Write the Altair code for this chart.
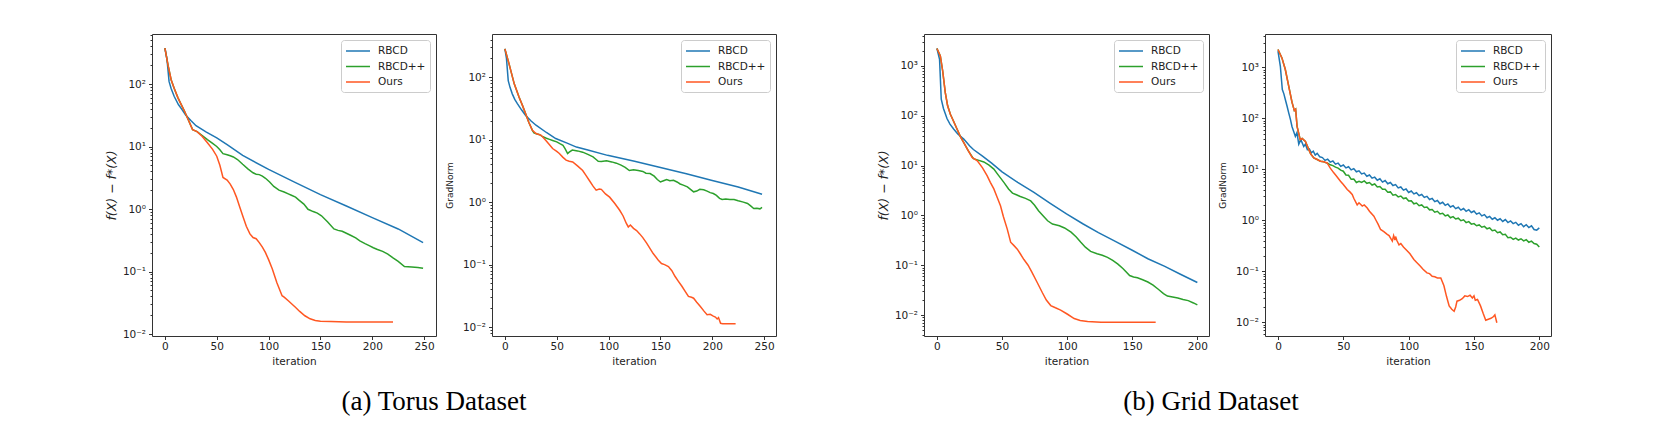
import altair as alt
import pandas as pd

SERIES = ["RBCD", "RBCD++", "Ours"]
COLORS = ["#1f77b4", "#2ca02c", "#ff5722"]
CAPTIONS = ["(a) Torus Dataset", "(b) Grid Dataset"]
Y_TITLES = ["f(X) − f*(X)", "GradNorm", "f(X) − f*(X)", "GradNorm"]
X_TITLE = "iteration"

X_TICKS_TORUS = [0, 50, 100, 150, 200, 250]
X_TICKS_GRID = [0, 50, 100, 150, 200]
X_DOMAIN_TORUS = [-12.45, 261.45]
X_DOMAIN_GRID = [-9.95, 208.95]

Y_MAJOR = [0.01, 0.1, 1, 10, 100, 1000]
Y_MAJOR_LABELS = ["10⁻²", "10⁻¹", "10⁰", "10¹", "10²", "10³"]
Y_MINOR = [0.004, 0.005, 0.006, 0.007, 0.008, 0.009,
           0.02, 0.03, 0.04, 0.05, 0.06, 0.07, 0.08, 0.09,
           0.2, 0.3, 0.4, 0.5, 0.6, 0.7, 0.8, 0.9,
           2, 3, 4, 5, 6, 7, 8, 9,
           20, 30, 40, 50, 60, 70, 80, 90,
           200, 300, 400, 500, 600, 700, 800, 900,
           2000, 3000, 4000]

Y_DOMAINS = [[0.0093, 631], [0.0072, 490], [0.0038, 4365], [0.0054, 4467]]

# ---------------- Panel 1: Torus, f(X) - f*(X) ----------------
P1_RBCD_IT = [0, 2, 4, 6, 9, 13, 16, 20, 25, 30, 40, 50, 60, 75, 100, 125, 150, 175, 200, 225, 249]
P1_RBCD_V = [375, 250, 110, 85, 63, 47, 40, 32, 26, 21.5, 17, 13.8, 10.7, 7.2, 4.3, 2.7, 1.7, 1.12, 0.73, 0.48, 0.29]

P1_OURS_IT = [0, 3, 6, 9, 12.6, 16, 18.8, 22, 26.7, 31, 36, 41, 46, 50, 53, 56, 60, 63, 66, 69, 72, 75,
              78.5, 82, 85, 88, 91, 94, 97, 100, 103.6, 108, 113, 115, 119, 125.6, 130, 135, 140, 145,
              150, 160, 175, 190, 205, 220]
P1_OURS_V = [375, 200, 117, 85, 60, 46, 37, 28, 18.6, 17.3, 14.5, 11.5, 9, 7, 5, 3.2, 2.9, 2.5, 2.05, 1.55,
             1.1, 0.78, 0.53, 0.4, 0.35, 0.335, 0.29, 0.245, 0.2, 0.155, 0.11, 0.066, 0.041, 0.039, 0.034,
             0.027, 0.023, 0.0196, 0.0175, 0.0165, 0.016, 0.0158, 0.0156, 0.0156, 0.0156, 0.0156]

P1_PP_IT = [0, 3, 6, 9, 12.6, 16, 18.8, 22, 26.7, 31, 36, 41, 46, 50, 53, 56, 60, 63, 66, 70, 75, 80, 85,
            88, 91, 94, 97, 101, 105, 110, 115, 119, 122, 126, 129, 134, 138, 143, 147, 151, 157, 163,
            167, 171, 175, 179, 184, 188, 193, 197, 201, 205, 210, 215, 220, 225, 231, 238, 244, 249]
P1_PP_V = [375, 200, 117, 85, 60, 46, 37, 28, 18.6, 17.3, 15, 12.9, 11.2, 10, 8.9, 7.7, 7.4, 7.1, 6.8,
           6.2, 5.2, 4.4, 3.8, 3.6, 3.55, 3.35, 3.1, 2.7, 2.3, 2.0, 1.87, 1.75, 1.66, 1.55, 1.4, 1.2,
           0.99, 0.91, 0.86, 0.78, 0.62, 0.48, 0.455, 0.44, 0.41, 0.38, 0.345, 0.31, 0.28, 0.26, 0.24,
           0.225, 0.21, 0.19, 0.165, 0.145, 0.12, 0.118, 0.116, 0.113]

# ---------------- Panel 2: Torus, GradNorm ----------------
P2_RBCD_IT = [0, 1.5, 3.2, 5, 7.1, 9.5, 12, 16, 20, 25, 30, 40, 49, 60, 69, 80, 99, 125, 149, 175, 199, 225, 248]
P2_RBCD_V = [283, 200, 88, 68, 54, 44, 37.6, 30, 24.4, 20, 17, 13, 10.4, 8.8, 7.6, 6.8, 5.6, 4.5, 3.6, 2.85,
             2.24, 1.75, 1.34]

P2_OURS_IT = [0, 4, 9, 13.6, 17, 20, 23, 26.5, 30, 35, 39.5, 43, 46, 50, 52.5, 56, 59, 62, 65.4, 70, 75,
              78, 81.6, 85, 88, 91, 93, 97, 101, 106, 110.7, 114, 117, 119, 121, 124, 127, 130, 133,
              136.7, 140, 143, 146, 148, 151, 154, 157.7, 161, 164, 167, 170.7, 174, 177, 180, 182,
              185, 188.5, 192, 195, 198, 201, 203, 204.7, 206, 208, 210, 215, 222.5]
P2_OURS_V = [283, 163, 78, 48, 35, 26, 19, 14.1, 12.5, 11.7, 9.7, 8.3, 7.2, 6.5, 6.0, 5.2, 4.7, 4.5, 4.4,
             3.8, 3.2, 2.7, 2.2, 1.8, 1.55, 1.62, 1.6, 1.35, 1.2, 0.95, 0.74, 0.6, 0.46, 0.4, 0.43, 0.38,
             0.35, 0.31, 0.27, 0.22, 0.18, 0.15, 0.13, 0.117, 0.104, 0.1, 0.093, 0.08, 0.065, 0.055,
             0.045, 0.037, 0.031, 0.03, 0.029, 0.025, 0.0214, 0.018, 0.0158, 0.016, 0.015, 0.0145,
             0.0135, 0.0142, 0.0115, 0.0113, 0.0113, 0.0113]

P2_PP_IT = [0, 4, 9, 13.6, 17, 20, 23, 26.5, 28, 31, 33, 36, 40, 43, 46, 50, 53, 56, 58, 60.5, 62, 65, 70,
            75, 80, 85, 88, 90, 93, 98, 103, 107.5, 112, 116, 120, 124, 128.6, 133, 136, 140, 144, 147,
            150, 153, 156, 159, 162.6, 166, 169, 172, 176, 179, 182, 185, 188, 191.7, 195, 198, 201,
            204, 207, 209.5, 213, 217, 221, 225, 230, 234, 237, 240, 243, 246, 248]
P2_PP_V = [283, 163, 78, 48, 35, 26, 19, 14.1, 12.8, 12.3, 12.1, 11.3, 10.5, 10.1, 9.7, 9.2, 8.6, 8.1, 7.2,
           6.0, 6.3, 6.8, 6.6, 6.3, 5.8, 5.3, 4.8, 4.5, 4.45, 4.6, 4.4, 4.2, 3.9, 3.6, 3.2, 3.3, 3.2,
           3.1, 2.9, 2.86, 2.6, 2.3, 2.1, 2.2, 2.3, 2.2, 2.24, 2.1, 1.95, 1.87, 1.75, 1.6, 1.46, 1.5,
           1.6, 1.58, 1.5, 1.42, 1.37, 1.28, 1.15, 1.1, 1.12, 1.1, 1.1, 1.05, 1.0, 0.95, 0.87, 0.79,
           0.8, 0.78, 0.82]

# ---------------- Panel 3: Grid, f(X) - f*(X) ----------------
P3_RBCD_IT = [0, 2, 3.3, 5, 7.7, 10, 12.8, 16, 20.6, 25, 28, 35, 42, 50, 62, 74.5, 87, 99.5, 112, 124,
              137, 150, 162, 175, 187, 200]
P3_RBCD_V = [2230, 1350, 214, 140, 88, 68, 54, 43, 34, 25, 21, 15.5, 11.2, 7.5, 4.6, 2.9, 1.75, 1.07,
             0.68, 0.45, 0.3, 0.2, 0.135, 0.095, 0.066, 0.045]

P3_OURS_IT = [0, 2.6, 4.4, 6.4, 8.2, 10.3, 12.5, 15.4, 18, 20.6, 24, 27, 31, 35, 38.6, 41, 43.7, 46, 48.8,
              51, 54, 56.6, 59, 61.7, 64, 66.8, 70, 73, 77, 81, 84, 87.4, 91, 95, 100, 105.4, 110,
              115.7, 126, 140, 155, 168]
P3_OURS_V = [2230, 1590, 790, 290, 158, 107, 80, 54, 38, 29, 20, 14.6, 12.4, 9, 6.2, 4.6, 3.4, 2.4, 1.56,
             0.95, 0.53, 0.29, 0.25, 0.21, 0.17, 0.13, 0.1, 0.072, 0.045, 0.028, 0.02, 0.0155, 0.014,
             0.0126, 0.0105, 0.0085, 0.0078, 0.0074, 0.0072, 0.0072, 0.0072, 0.0072]

P3_PP_IT = [0, 2.6, 4.4, 6.4, 8.2, 10.3, 12.5, 15.4, 18, 20.6, 24, 28, 31, 36, 40, 43.7, 47, 51.4, 55, 58,
            61, 64, 68, 72, 75, 78, 82, 85, 88.7, 91, 94, 98, 103, 107, 110.5, 114, 118, 123, 127, 131,
            135, 139, 143, 148, 151, 154, 158, 162, 166, 170, 174, 177, 181, 185, 189, 193, 197, 200]
P3_PP_V = [2230, 1590, 790, 290, 158, 107, 80, 54, 38, 29, 20, 13.8, 13, 11.8, 10.2, 8.5, 6.5, 4.6, 3.4,
           2.8, 2.6, 2.4, 2.2, 1.95, 1.6, 1.24, 0.95, 0.78, 0.67, 0.65, 0.62, 0.56, 0.46, 0.37, 0.29,
           0.23, 0.19, 0.17, 0.158, 0.144, 0.125, 0.105, 0.085, 0.062, 0.058, 0.056, 0.051, 0.046, 0.04,
           0.033, 0.027, 0.024, 0.023, 0.022, 0.0205, 0.0195, 0.0175, 0.016]

# ---------------- Panel 4: Grid, GradNorm ----------------
P4_RBCD_IT = [0, 1.8, 3.3, 4.5, 5.6, 7, 8.2, 9.5, 10.7, 12, 13.3, 14.5, 15.9, 17.5, 19.7, 21, 22.5, 24,
              25.5, 27, 28.5, 30, 32,
              34, 36, 38, 40, 42, 44, 46, 48, 50, 52, 54, 56, 58, 60, 62, 64, 66, 68, 70, 72, 74, 76,
              78, 80, 82, 84, 86, 88, 90, 92, 94, 96, 98, 100, 102, 104, 106, 108, 110, 112, 114, 116,
              118, 120, 122, 124, 126, 128, 130, 132, 134, 136, 138, 140, 142, 144, 146, 148, 150, 152,
              154, 156, 158, 160, 162, 164, 166, 168, 170, 172, 174, 176, 178, 180, 182, 184, 186, 188,
              190, 192, 194, 196, 198, 200]
P4_RBCD_V = [2060, 1040, 365, 300, 233, 170, 127, 95, 69, 55, 44, 52, 31, 38, 28, 31, 24, 25, 21, 22.5,
             19, 20.5, 17.5,
             16.9, 14.9, 15.75, 13.8, 14.5, 12.6, 13.2, 11.4, 12.1, 10.6, 11.2, 9.7, 10.3, 8.9, 9.3, 8.1,
             8.4, 7.3, 7.7, 6.7, 7.0, 6.1, 6.5, 5.6, 6.0, 5.2, 5.5, 4.8, 5.0, 4.3, 4.5, 3.9, 4.1, 3.5,
             3.75, 3.28, 3.47, 3.03, 3.2, 2.8, 2.94, 2.55, 2.68, 2.32, 2.44, 2.11, 2.25, 1.96, 2.09, 1.82,
             1.93, 1.69, 1.8, 1.58, 1.7, 1.5, 1.61, 1.42, 1.52, 1.32, 1.4, 1.22, 1.29, 1.12, 1.19, 1.05,
             1.12, 1.0, 1.07, 0.95, 1.03, 0.9, 0.97, 0.86, 0.91, 0.8, 0.86, 0.75, 0.82, 0.72, 0.78, 0.66,
             0.64, 0.71]

P4_OURS_IT = [0, 3, 5.6, 8.2, 10.7, 12.5, 13.5, 14.6, 17, 18.5, 21, 23.5, 25, 27.4, 30, 32.5, 35, 37.6, 40,
              42.7, 45, 47.8, 50, 53, 55, 56.8, 58, 60.6, 62, 64.5, 66, 68.3, 70, 73.4, 75, 76.5, 78.5,
              81, 83.6, 85, 87.5, 88.5, 89.5, 90, 91, 92.6, 94, 96, 99, 101, 104, 106, 109, 111, 114,
              116, 118, 120, 122, 124.6, 127, 129, 131, 133, 134.8, 136, 137, 139, 141, 143, 145, 147,
              148.8, 150, 151, 152.7, 155, 157, 159, 161, 163, 165, 166, 167.5]
P4_OURS_V = [2220, 1520, 900, 424, 206, 141, 150, 69, 38, 40, 35, 24.5, 20, 16.6, 15.5, 14.4, 14, 13.3,
             10.5, 8.5, 7.2, 5.8, 5.0, 4.0, 3.6, 3.2, 2.7, 2.0, 2.2, 1.9, 2.0, 1.74, 1.5, 1.2, 1.0, 0.85,
             0.66, 0.6, 0.53, 0.5, 0.39, 0.5, 0.41, 0.48, 0.4, 0.33, 0.35, 0.3, 0.25, 0.22, 0.17, 0.15,
             0.126, 0.11, 0.093, 0.09, 0.08, 0.078, 0.074, 0.074, 0.052, 0.032, 0.021, 0.018, 0.0165,
             0.02, 0.026, 0.027, 0.029, 0.033, 0.032, 0.034, 0.03, 0.033, 0.027, 0.028, 0.021, 0.015,
             0.011, 0.0115, 0.012, 0.013, 0.014, 0.0098]

P4_PP_IT = [0, 3, 5.6, 8.2, 10.7, 12.5, 13.5, 14.6, 17, 18.5, 21, 23.5, 25, 27.4, 30, 32.5, 35,
            36, 38, 40, 42, 44, 46, 48, 50, 52, 54, 56, 58, 60, 62, 64, 66, 68, 70, 72, 74, 76, 78, 80,
            82, 84, 86, 88, 90, 92, 94, 96, 98, 100, 102, 104, 106, 108, 110, 112, 114, 116, 118, 120,
            122, 124, 126, 128, 130, 132, 134, 136, 138, 140, 142, 144, 146, 148, 150, 152, 154, 156,
            158, 160, 162, 164, 166, 168, 170, 172, 174, 176, 178, 180, 182, 184, 186, 188, 190, 192,
            194, 196, 198, 200]
P4_PP_V = [2220, 1520, 900, 424, 206, 141, 150, 69, 38, 40, 35, 24.5, 20, 16.6, 15.5, 14.4, 14,
           13.6, 13.1, 12.2, 11.8, 11.0, 10.5, 9.6, 9.15, 7.7, 7.6, 6.35, 6.45, 5.5, 5.8, 5.5, 5.9, 5.3,
           5.5, 4.9, 5.15, 4.5, 4.6, 4.05, 4.05, 3.55, 3.6, 3.1, 3.2, 2.87, 2.98, 2.66, 2.74, 2.38,
           2.42, 2.1, 2.18, 1.93, 2.0, 1.78, 1.82, 1.6, 1.63, 1.44, 1.5, 1.33, 1.37, 1.22, 1.27, 1.12,
           1.18, 1.06, 1.1, 0.98, 1.02, 0.9, 0.94, 0.84, 0.86, 0.78, 0.81, 0.73, 0.76, 0.68, 0.71,
           0.625, 0.645, 0.57, 0.59, 0.52, 0.53, 0.457, 0.465, 0.423, 0.447, 0.41, 0.434, 0.394, 0.416,
           0.371, 0.39, 0.35, 0.34, 0.30]

PANELS = [
    [(P1_RBCD_IT, P1_RBCD_V), (P1_PP_IT, P1_PP_V), (P1_OURS_IT, P1_OURS_V)],
    [(P2_RBCD_IT, P2_RBCD_V), (P2_PP_IT, P2_PP_V), (P2_OURS_IT, P2_OURS_V)],
    [(P3_RBCD_IT, P3_RBCD_V), (P3_PP_IT, P3_PP_V), (P3_OURS_IT, P3_OURS_V)],
    [(P4_RBCD_IT, P4_RBCD_V), (P4_PP_IT, P4_PP_V), (P4_OURS_IT, P4_OURS_V)],
]

FONT = "DejaVu Sans"
H = 302


def make_df(series_data):
    rows = []
    for name, (its, vals) in zip(SERIES, series_data):
        for k, (i, v) in enumerate(zip(its, vals)):
            rows.append({"series": name, "iteration": i, "value": v, "k": k})
    return pd.DataFrame(rows)


def panel(idx, width, xdom, xticks, caption=None, cap_x=0):
    ydom = Y_DOMAINS[idx]
    majors = [m for m in Y_MAJOR if ydom[0] <= m <= ydom[1]]
    minors = [m for m in Y_MINOR if ydom[0] <= m <= ydom[1]]
    labs = {m: l for m, l in zip(Y_MAJOR, Y_MAJOR_LABELS)}
    label_expr = " : ".join(f"datum.value == {m} ? '{labs[m]}'" for m in majors) + " : ''"
    major_test = "indexof([" + ",".join(str(m) for m in majors) + "], datum.value) >= 0"
    objective = idx in (0, 2)
    yaxis_kw = dict(
        values=sorted(majors + minors), labelExpr=label_expr,
        tickSize={"condition": {"test": major_test, "value": 3.5}, "value": 2},
        title=Y_TITLES[idx], grid=False, domain=False, labelOverlap=False,
        labelPadding=3,
    )
    if objective:
        yaxis_kw.update(titleFontStyle="italic", titleFontSize=12.5, titlePadding=4)
    else:
        yaxis_kw.update(titleFontSize=9, titlePadding=8)
    x = alt.X("iteration:Q", scale=alt.Scale(domain=xdom, nice=False, zero=False),
              axis=alt.Axis(values=xticks, title=X_TITLE, grid=False, domain=False, tickSize=3.5,
                            labelFlush=False, labelPadding=2, titlePadding=4))
    y = alt.Y("value:Q", scale=alt.Scale(type="log", domain=ydom, nice=False),
              axis=alt.Axis(**yaxis_kw))
    color = alt.Color("series:N", scale=alt.Scale(domain=SERIES, range=COLORS),
                      legend=alt.Legend(title=None, orient="top-right", offset=6, fillColor="white",
                                        strokeColor="#cccccc", cornerRadius=3, padding=4,
                                        symbolType="M-1,0H3", symbolSize=144, symbolStrokeWidth=1.5,
                                        labelFont=FONT, labelFontSize=10.5, labelOffset=19,
                                        rowPadding=2.5, labelColor="#222222"))
    df = make_df(PANELS[idx])
    layers = []
    for s in SERIES:
        layers.append(
            alt.Chart(df).transform_filter(alt.datum.series == s)
            .mark_line(strokeWidth=1.5, clip=True)
            .encode(x=x, y=y, color=color, order="k:Q")
        )
    if caption is not None:
        layers.append(
            alt.Chart(pd.DataFrame({"caption": [caption]}))
            .mark_text(font="Liberation Serif", fontSize=27, color="black", baseline="middle")
            .encode(x=alt.value(cap_x), y=alt.value(368), text="caption:N")
        )
    return alt.layer(*layers).properties(width=width, height=H)


p1 = panel(0, 284, X_DOMAIN_TORUS, X_TICKS_TORUS, CAPTIONS[0], 282)
p2 = panel(1, 284, X_DOMAIN_TORUS, X_TICKS_TORUS)
p3 = panel(2, 285, X_DOMAIN_GRID, X_TICKS_GRID, CAPTIONS[1], 287)
p4 = panel(3, 286, X_DOMAIN_GRID, X_TICKS_GRID)

spacer = (alt.Chart(pd.DataFrame({"s": [0]})).mark_point(opacity=0)
          .encode(x=alt.value(0), y=alt.value(0))
          .properties(width=36, height=H, view=alt.ViewBackground(strokeWidth=0)))

chart = (
    alt.hconcat(p1, p2, spacer, p3, p4, spacing=56, bounds="flush")
    .resolve_scale(color="independent")
    .properties(padding={"left": 96, "top": 21, "right": 5, "bottom": 5}, background="white")
    .configure_view(stroke="#333333", strokeWidth=1)
    .configure_axis(labelFont=FONT, labelFontSize=10.5, titleFont=FONT, titleFontSize=10.5,
                    titleFontWeight="normal", labelColor="#222222", titleColor="#222222",
                    tickColor="#333333", tickWidth=1)
)

chart.save("out.html", embed_options={"renderer": "svg", "actions": False})
